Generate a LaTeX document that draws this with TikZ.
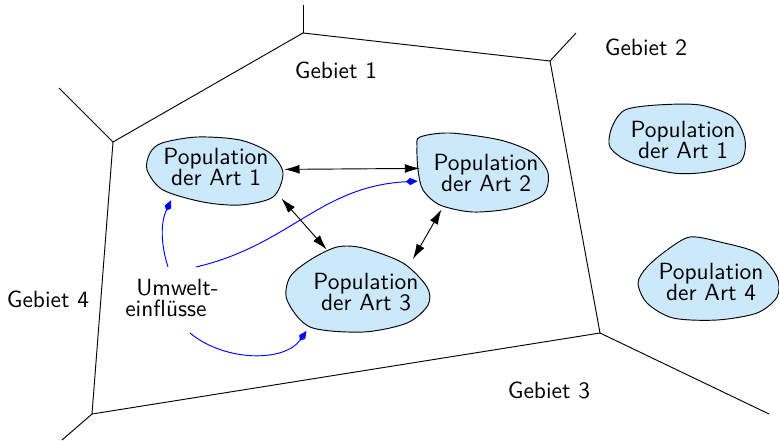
\documentclass[tikz,border=0pt]{standalone}
\usetikzlibrary{arrows.meta,shapes.geometric,backgrounds}
\definecolor{popblue}{RGB}{204,233,252}

\begin{document}
\begin{tikzpicture}[x=0.015cm, y=-0.015cm]
\tikzstyle{every node} = [font = \sffamily\fontsize{10}{9.2}\selectfont]
\tikzstyle{pop} = [ellipse, inner xsep=-3pt, inner ysep=0pt, align=center]
\tikzstyle{blob} = [draw, fill=popblue]
\tikzstyle{wechsel} = [{Latex[length=6.5pt,width=3.8pt]}-{Latex[length=6.5pt,width=3.8pt]}]
\tikzstyle{einfluss} = [blue, -{Kite[length=5pt,width=3pt,inset=1.8pt]}]

\useasboundingbox (0,0) rectangle (779,440);

% Gebietsgrenzen
\coordinate (v1) at (303,33);
\coordinate (v2) at (550,61);
\coordinate (v3) at (600,333);
\coordinate (v4) at (92,414);
\coordinate (v5) at (113,142);
\coordinate (w1) at (303,5);
\coordinate (w2) at (576,33);
\coordinate (w3) at (769,414);
\coordinate (w4) at (62,440);
\coordinate (w5) at (59,88);
\draw (v1) -- (v2) -- (v3) -- (v4) -- (v5) -- cycle;
\foreach \i in {1,...,5}
{
    \draw (v\i) -- (w\i); %v to outside
}

\node (gebiet1) at (336,70) {Gebiet 1};
\node (gebiet2) at (646,47) {Gebiet 2};
\node (gebiet3) at (549,390) {Gebiet 3};
\node (gebiet4) at (48,299) {Gebiet 4};

% Populationen
\node[pop, minimum width=58pt, minimum height=29pt] (p1) at (216,167) {Population\\der Art 1};
\node[pop, minimum width=56.3pt, minimum height=34pt] (p2) at (486,173) {Population\\der Art 2};
\node[pop, minimum width=60.6pt, minimum height=36.7pt] (p3) at (366,292) {Population\\der Art 3};
\node[pop, minimum width=57pt, minimum height=29pt] (q1) at (683,140) {Population\\der Art 1};
\node[pop, minimum width=60pt, minimum height=36pt] (q4) at (711,282) {Population\\der Art 4};

\node[align=left] (umwelt) at (172,298) {\hspace*{4.7pt}Umwelt-\\einflüsse};

\begin{scope}[on background layer]
\draw[blob, shift={(p1)}] plot[smooth cycle] coordinates {(-54,-24) (-19,-30) (24,-27) (54,-14) (67,6) (57,30) (24,38) (-13,35) (-53,23) (-69,3) (-66,-14)};
\draw[blob, shift={(p2)}] plot[smooth cycle] coordinates {(-66,-36) (-36,-40) (14,-33) (47,-20) (62,0) (57,22) (27,35) (-13,39) (-46,32) (-63,17) (-68,-3) (-69,-26)};
\draw[blob, shift={(p3)}] plot[smooth cycle] coordinates {(-29,-45) (-3,-44) (37,-29) (61,-5) (62,13) (41,31) (-3,40) (-56,35) (-79,8) (-76,-15) (-56,-32)};
\draw[blob, shift={(q1)}] plot[smooth cycle] coordinates {(-58,-30) (-26,-35) (17,-35) (50,-23) (62,0) (57,22) (24,32) (-10,33) (-53,22) (-73,7) (-71,-13)};
\draw[blob, shift={(q4)}] plot[smooth cycle] coordinates {(-21,-45) (9,-40) (46,-29) (66,-5) (66,15) (46,31) (6,38) (-38,36) (-64,21) (-73,1) (-64,-15) (-44,-32)};
\end{scope}

% Wechselwirkungen
\draw[wechsel] (p1.-2) -- (p2.176); %Art 1 to Art 2
\draw[wechsel, shorten <=6.4pt, shorten >=2.6pt] (p1.-20) -- (p3.133); %Art 1 to Art 3
\draw[wechsel, shorten <=2.4pt] (p2.217) -- (p3.35); %Art 2 to Art 3

% Umwelteinfluesse
\coordinate (e1) at (168,267);
\coordinate (e2) at (196,267);
\coordinate (e3) at (190,333);
\draw[einfluss, shorten >=2.8pt] (e1) .. controls +(-8,-25) and +(-13,27) .. (p1.213);
\draw[einfluss, shorten >=1.4pt] (e2) .. controls +(94,-22) and +(-101,5) .. (p2.187);
\draw[einfluss, shorten >=5pt] (e3) .. controls +(35,29) and +(-28.5,41) .. (p3.209);
\end{tikzpicture}
\end{document}
